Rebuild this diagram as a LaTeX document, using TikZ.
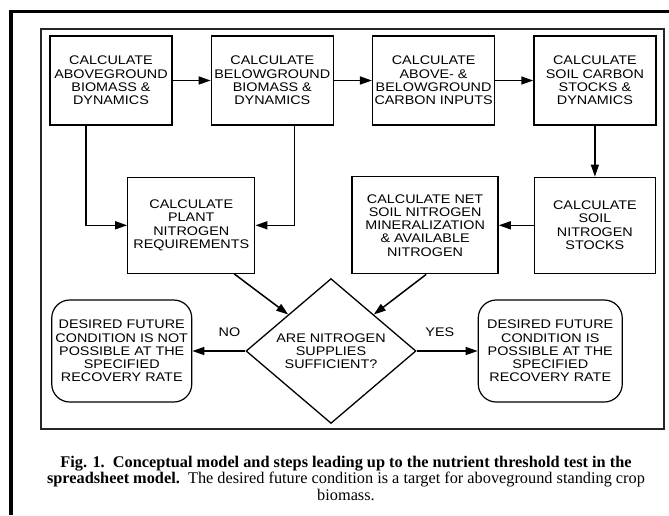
\documentclass[tikz,border=0pt]{standalone}
\usepackage{fontspec}
\setmainfont{Liberation Serif}
\newfontfamily\boxfont[FakeStretch=1.15]{Liberation Sans}
\newfontfamily\capfont{Liberation Serif}
\usetikzlibrary{arrows.meta,positioning,shapes.geometric}

\begin{document}
\begin{tikzpicture}[
  x=1pt,y=-1pt,
  >={Triangle[length=12pt,width=8pt]},
  every node/.style={font=\boxfont\fontsize{12.5}{13.3}\selectfont},
  task/.style={draw,line width=1.3pt,minimum width=122pt,minimum height=89pt,
               inner sep=0pt,align=center},
  test/.style={diamond,draw,line width=1.3pt,minimum width=170pt,
               minimum height=140pt,inner sep=0pt,align=center},
  outcome/.style={draw,line width=1.2pt,rounded corners=18pt,minimum width=140pt,
                  minimum height=102pt,inner sep=0pt,align=center},
  link/.style={->,line width=1.5pt},
  answer/.style={above=14pt,inner sep=0pt}
]
\useasboundingbox (0,0) rectangle (669,515);
\draw[line width=3.5pt] (11,515) -- (11,11.5) -- (669,11.5);
\draw[line width=1.1pt,black!85] (41,29) rectangle (664,429);

\node[task] (above) at (111,80.5) {CALCULATE\\ABOVEGROUND\\BIOMASS \&\\DYNAMICS};
\node[task,right=38pt of above] (below) {CALCULATE\\BELOWGROUND\\BIOMASS \&\\DYNAMICS};
\node[task,right=38pt of below] (inputs) {CALCULATE\\ABOVE- \&\\BELOWGROUND\\CARBON INPUTS};
\node[task,right=38pt of inputs] (soilc) {CALCULATE\\SOIL CARBON\\STOCKS \&\\DYNAMICS};

\node[task,minimum width=121pt,minimum height=96pt,below=51pt of soilc] (soiln)
  {CALCULATE\\SOIL\\NITROGEN\\STOCKS};
\node[task,minimum width=146pt,minimum height=97pt,left=35pt of soiln] (netmin)
  {CALCULATE NET\\SOIL NITROGEN\\MINERALIZATION\\\& AVAILABLE\\NITROGEN};
\node[task,minimum width=127pt,minimum height=96pt,left=96pt of netmin] (plantn)
  {CALCULATE\\PLANT\\NITROGEN\\REQUIREMENTS};

\node[test] (enough) at (331,351) {ARE NITROGEN\\SUPPLIES\\SUFFICIENT?};
\node[outcome,left=53pt of enough] (fail)
  {DESIRED FUTURE\\CONDITION IS NOT\\POSSIBLE AT THE\\SPECIFIED\\RECOVERY RATE};
\node[outcome,minimum width=144pt,right=61pt of enough] (pass)
  {DESIRED FUTURE\\CONDITION IS\\POSSIBLE AT THE\\SPECIFIED\\RECOVERY RATE};

\node[font=\capfont\fontsize{16.3}{16.5}\selectfont,align=center,inner sep=0pt] (caption) at (346,478)
  {\textbf{Fig. 1.\ \ Conceptual model and steps leading up to the nutrient threshold test in the}\\
   \textbf{spreadsheet model.}\ \ The desired future condition is a target for aboveground standing crop\\
   biomass.};

\draw[link] (above) -- (below);
\draw[link] (below) -- (inputs);
\draw[link] (inputs) -- (soilc);
\draw[link] (soilc) -- (soiln);
\draw[link] (soiln) -- (netmin);
\draw[link] ([xshift=-25pt]above.south) |- (plantn.west);
\draw[link] ([xshift=22pt]below.south) |- (plantn.east);
\draw[link] ([xshift=43pt]plantn.south) -- (enough.north west);
\draw[link] ([xshift=1pt]netmin.south) -- (enough.north east);
\draw[link] (enough) -- node[answer,pos=0.3]{NO} (fail);
\draw[link] (enough) -- node[answer,pos=0.38]{YES} (pass);
\end{tikzpicture}
\end{document}
